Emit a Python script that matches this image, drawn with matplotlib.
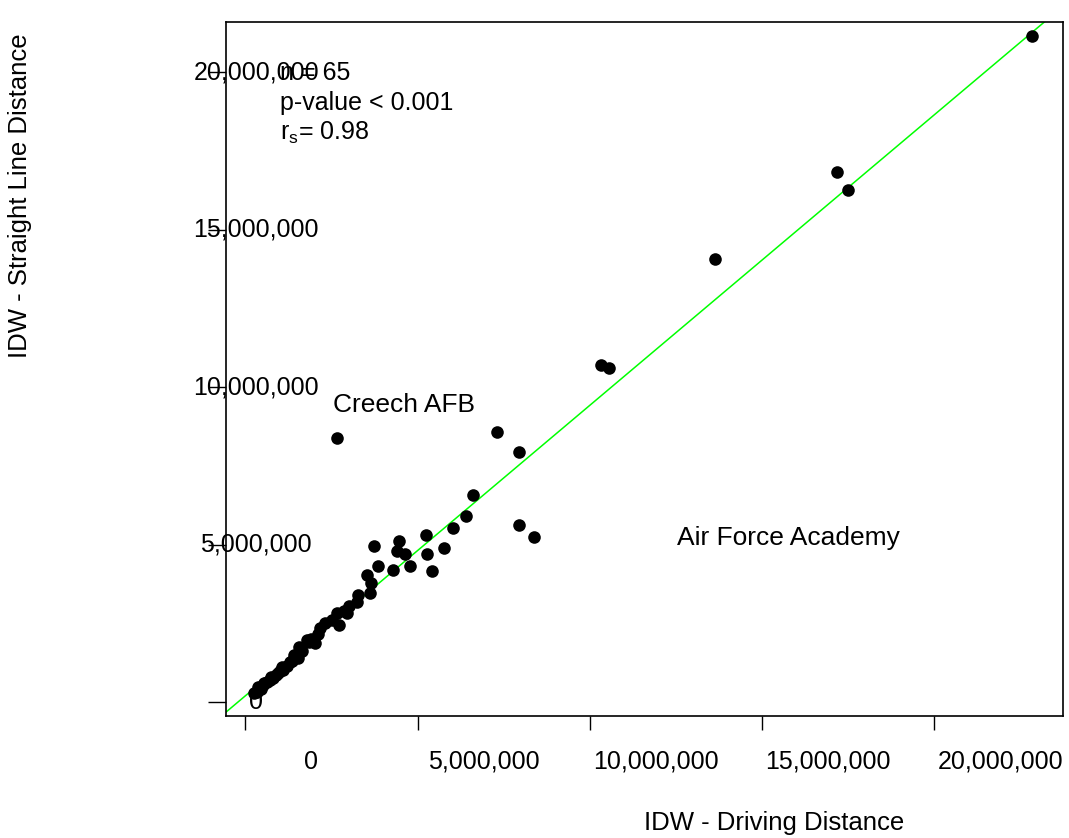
import numpy as np
import matplotlib
matplotlib.use('Agg')
import matplotlib.pyplot as plt
import matplotlib.transforms as mtransforms

plt.rcParams['font.family'] = ['Liberation Sans', 'DejaVu Sans']
plt.rcParams['font.size'] = 18

# values, in millions
driving_m = [22.85, 17.17, 17.49, 13.62, 10.32, 10.55,
             2.66, 7.29, 7.93, 6.61, 6.39, 6.04, 5.23, 5.77, 5.28, 5.41,
             7.93, 8.39, 3.73, 4.46, 4.39, 4.62, 4.79, 3.84, 4.27, 3.53,
             3.64, 3.61, 3.27, 3.24, 2.65, 2.94, 2.71, 2.16, 2.02, 1.78,
             1.56, 1.53, 1.29, 1.10, 0.95, 0.81, 0.62, 0.37, 0.33,
             2.30, 1.90, 1.20, 0.70, 0.50, 2.50, 1.40, 1.00, 0.90, 0.45,
             3.00, 1.65, 2.10, 0.75, 1.35, 0.55, 1.85, 2.85, 0.25, 1.05]
straight_m = [21.14, 16.83, 16.25, 14.06, 10.70, 10.60,
              8.37, 8.58, 7.94, 6.56, 5.89, 5.53, 5.31, 4.89, 4.70, 4.15,
              5.62, 5.24, 4.95, 5.11, 4.79, 4.70, 4.33, 4.32, 4.19, 4.03,
              3.79, 3.47, 3.40, 3.18, 2.82, 2.82, 2.44, 2.34, 1.86, 1.97,
              1.76, 1.39, 1.28, 1.02, 0.91, 0.75, 0.65, 0.49, 0.33,
              2.50, 2.00, 1.15, 0.70, 0.55, 2.60, 1.50, 1.00, 0.85, 0.40,
              3.05, 1.62, 2.15, 0.80, 1.30, 0.60, 1.90, 2.90, 0.30, 1.10]
fit_intercept_m = 0.20
fit_slope = 0.922

tick_vals = [0, 5e6, 10e6, 15e6, 20e6]
tick_labels = ['0', '5,000,000', '10,000,000', '15,000,000', '20,000,000']

driving = np.array(driving_m) * 1e6
straight = np.array(straight_m) * 1e6

fig = plt.figure(figsize=(10.69, 8.38), dpi=100)
ax = fig.add_axes([0.2114, 0.1456, 0.7830, 0.8282])

ax.scatter(driving, straight, s=82, color='black', zorder=3, linewidths=0)
ax.axline((0, fit_intercept_m * 1e6), slope=fit_slope, color='#00ff00', lw=1.1, zorder=2)

ax.set_xlim(-0.566e6, 23.74e6)
ax.set_ylim(-0.444e6, 21.59e6)

for s in ax.spines.values():
    s.set_linewidth(1.2)

ax.set_xticks(tick_vals)
ax.set_yticks(tick_vals)
ax.tick_params(axis='x', length=10, width=1, direction='out', labelbottom=False)
ax.tick_params(axis='y', length=13, width=1, direction='out', labelleft=False)

# tick labels sit off their ticks, as in the original export
xtrans = mtransforms.blended_transform_factory(ax.transData, fig.transFigure) + \
    mtransforms.ScaledTranslation(0.66, 0, fig.dpi_scale_trans)
for v, lab in zip(tick_vals, tick_labels):
    ax.text(v, 0.0907, lab, transform=xtrans, ha='center', va='center', clip_on=False)

ytrans = mtransforms.blended_transform_factory(ax.transAxes, ax.transData)
for v, lab in zip(tick_vals, tick_labels):
    ax.text(0.036, v, lab, transform=ytrans, ha='center', va='center', clip_on=False)

fig.text(0.2619, 0.9129, 'n = 65', va='center')
fig.text(0.2619, 0.8771, 'p-value < 0.001', va='center')
fig.text(0.2619, 0.8413, r'$\mathregular{r_s}$= 0.98', va='center')

fig.text(0.3115, 0.5167, 'Creech AFB', va='center', fontsize=19)
fig.text(0.6333, 0.3580, 'Air Force Academy', va='center', fontsize=19)

fig.text(0.724, 0.0179, 'IDW - Driving Distance', ha='center', va='center', fontsize=18.5)
fig.text(0.0187, 0.766, 'IDW - Straight Line Distance', rotation=90, ha='center', va='center',
         fontsize=18.5)

fig.savefig('out.png', dpi=100, facecolor='white')
